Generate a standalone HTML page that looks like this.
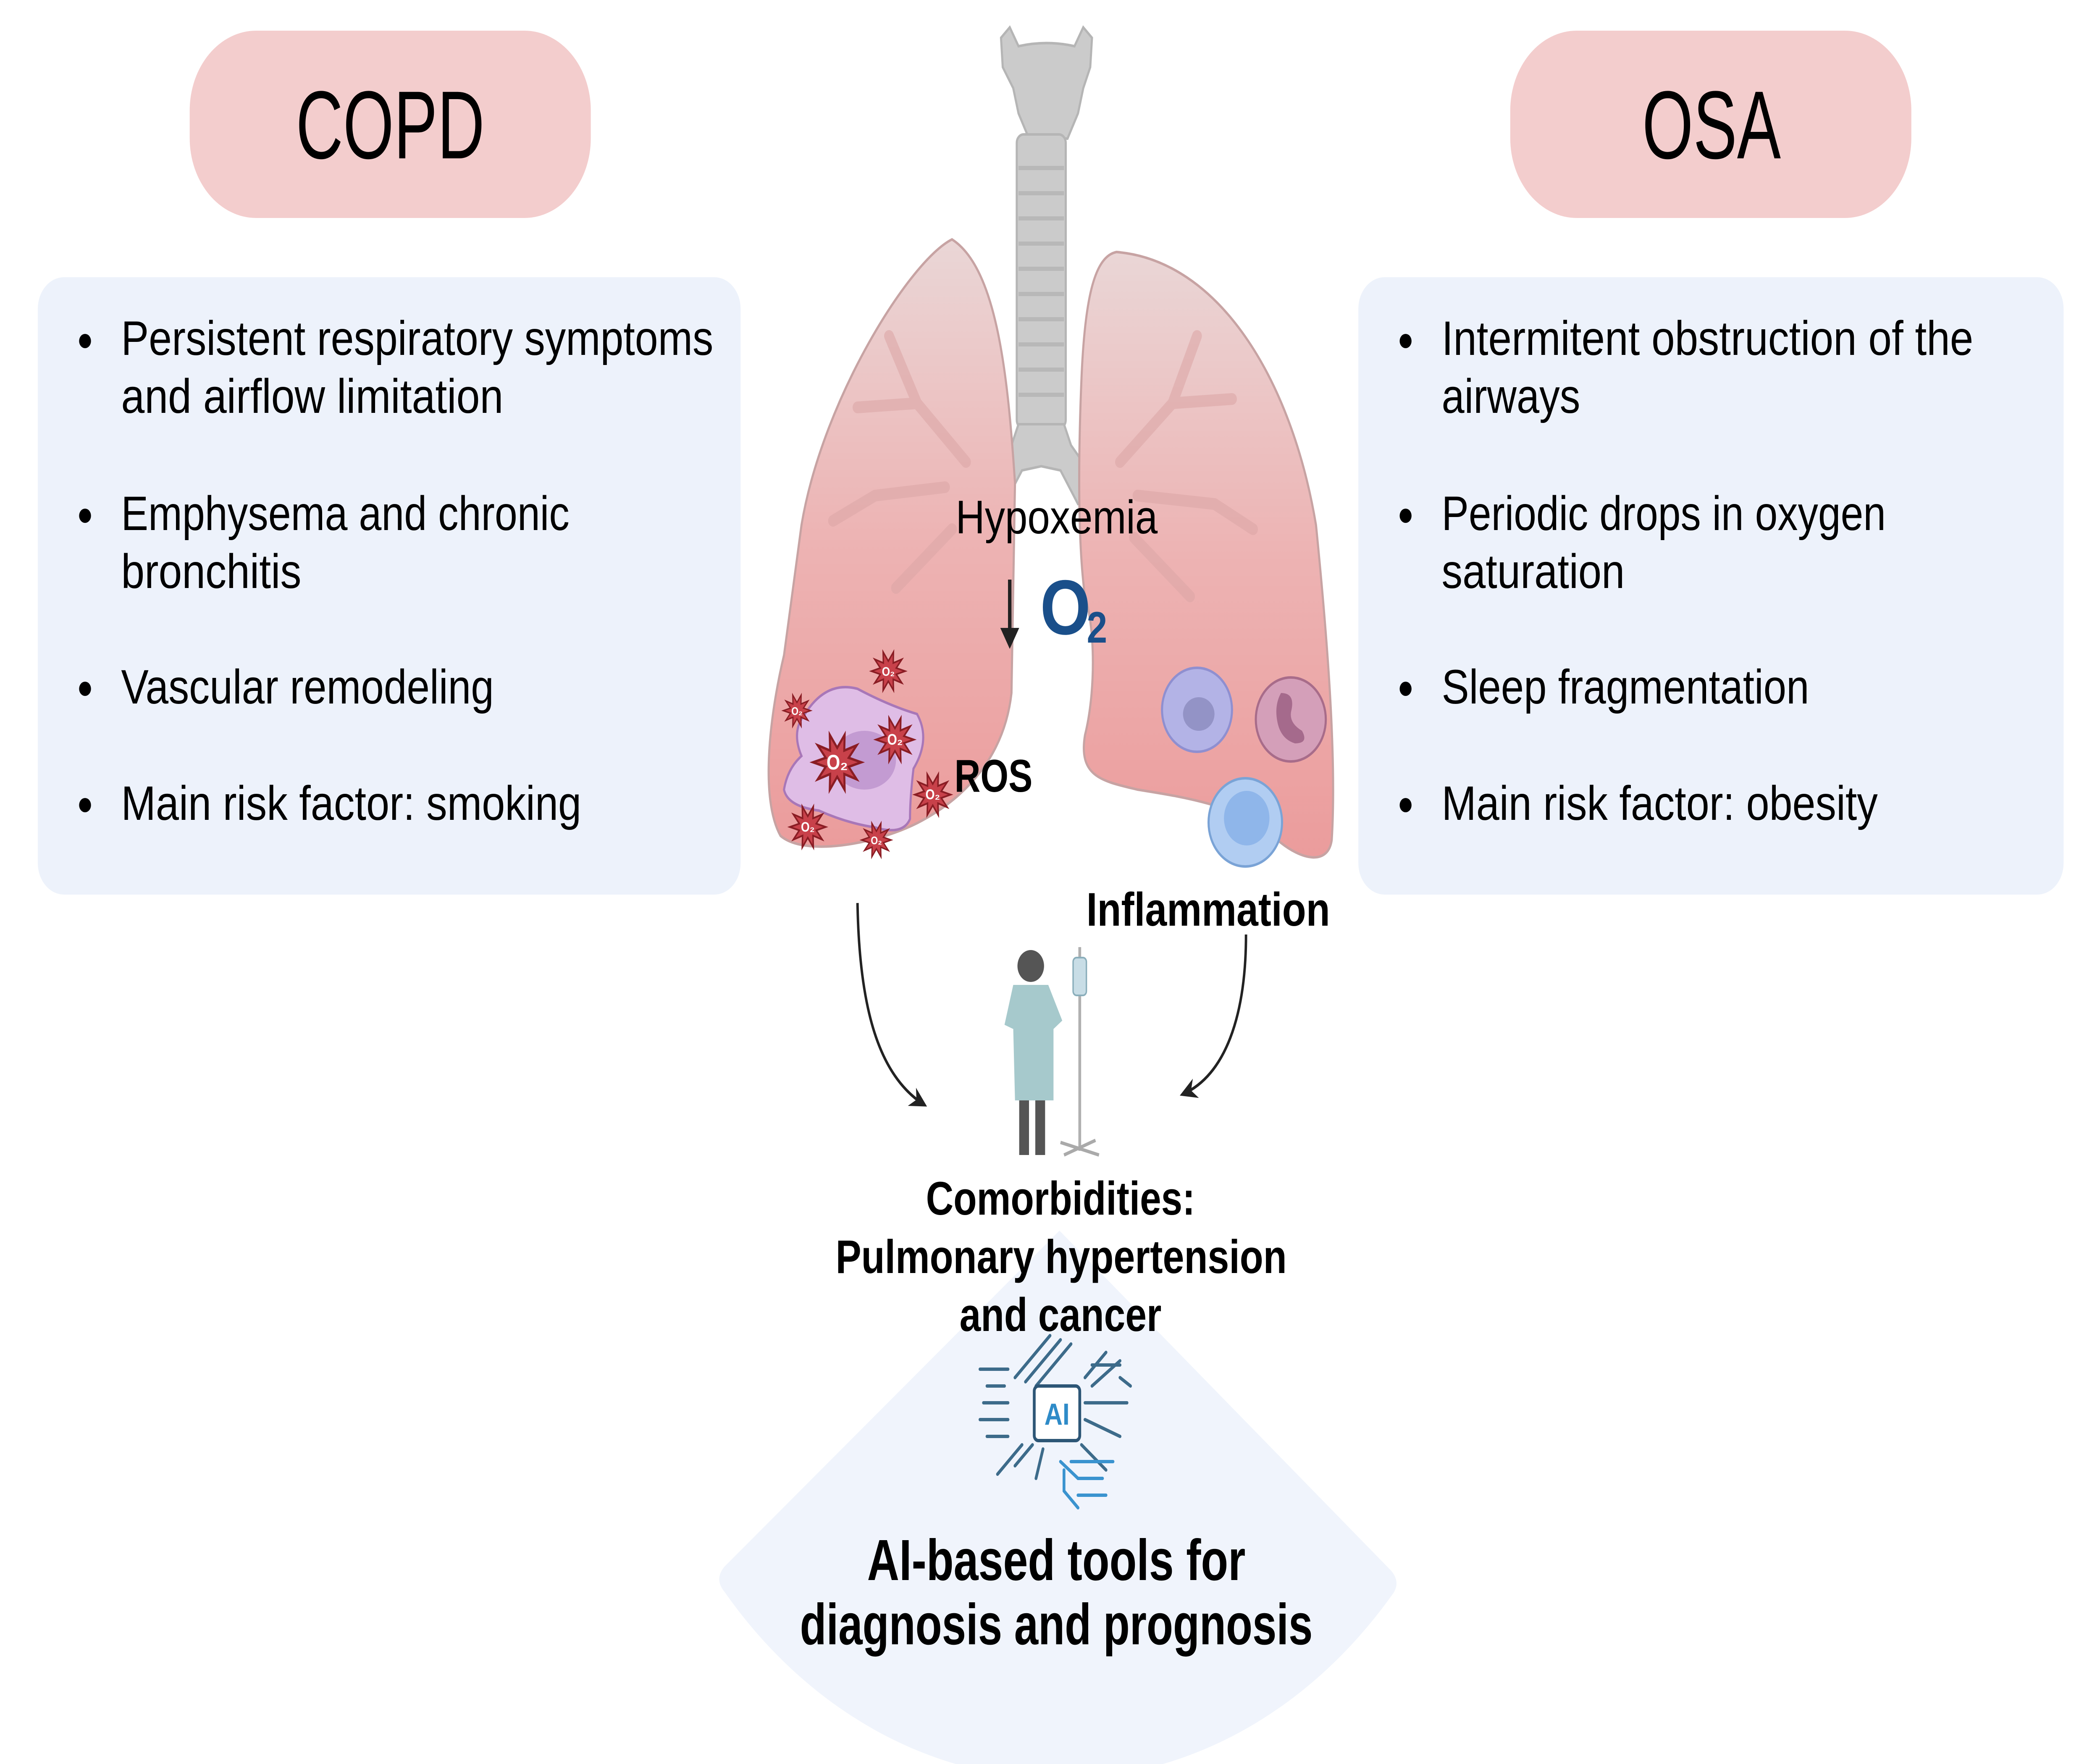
<!DOCTYPE html>
<html><head><meta charset="utf-8"><style>
html,body{margin:0;padding:0;background:#fff;width:100%;height:100%;overflow:hidden;}
svg{display:block;width:100vw;height:100vh;}
text{font-family:"Liberation Sans",Arial,sans-serif;}
</style></head><body>
<svg viewBox="0 0 6000 4200" preserveAspectRatio="none" xmlns="http://www.w3.org/2000/svg">
<defs>
<linearGradient id="lg" x1="0" y1="0" x2="0" y2="1">
<stop offset="0" stop-color="#ead6d6"/><stop offset="0.5" stop-color="#edb3b3"/><stop offset="1" stop-color="#eb9c9c"/>
</linearGradient>
<polygon id="star" points="60,0 28.5,9.3 48.5,35.3 17.6,24.3 18.5,57.1 0,30 -18.5,57.1 -17.6,24.3 -48.5,35.3 -28.5,9.3 -60,0 -28.5,-9.3 -48.5,-35.3 -17.6,-24.3 -18.5,-57.1 0,-30 18.5,-57.1 17.6,-24.3 48.5,-35.3 28.5,-9.3" fill="#c8414a" stroke="#8a1d24" stroke-width="5"/>
<marker id="ah" viewBox="0 0 10 10" refX="8" refY="5" markerWidth="7" markerHeight="7" orient="auto" markerUnits="strokeWidth"><path d="M0,0 L10,5 L0,10 L3,5 Z" fill="#222"/></marker>
</defs>

<path d="M3027,2930 L2070,3730 Q2040,3760 2070,3790 A1250,1250 0 0 0 3975,3800 Q4005,3770 3975,3740 Z" fill="#f0f4fc"/>

<rect x="542" y="73" width="1146" height="446" rx="190" fill="#f3cdcd"/>
<rect x="4315" y="73" width="1146" height="446" rx="190" fill="#f3cdcd"/>
<text x="1115" y="377" font-size="230" text-anchor="middle" textLength="539" lengthAdjust="spacingAndGlyphs">COPD</text>
<text x="4890" y="377" font-size="230" text-anchor="middle" textLength="396" lengthAdjust="spacingAndGlyphs">OSA</text>

<rect x="108" y="660" width="2008" height="1470" rx="75" fill="#edf2fb"/>
<rect x="3881" y="660" width="2015" height="1470" rx="75" fill="#edf2fb"/>

<g font-size="115" fill="#000">
<circle cx="243" cy="812" r="17"/><circle cx="243" cy="1228" r="17"/><circle cx="243" cy="1640" r="17"/><circle cx="243" cy="1917" r="17"/>
<text x="346" y="845" textLength="1692" lengthAdjust="spacingAndGlyphs">Persistent respiratory symptoms</text>
<text x="346" y="983" textLength="1092" lengthAdjust="spacingAndGlyphs">and airflow limitation</text>
<text x="346" y="1262" textLength="1281" lengthAdjust="spacingAndGlyphs">Emphysema and chronic</text>
<text x="346" y="1400" textLength="515" lengthAdjust="spacingAndGlyphs">bronchitis</text>
<text x="346" y="1675" textLength="1065" lengthAdjust="spacingAndGlyphs">Vascular remodeling</text>
<text x="346" y="1952" textLength="1315" lengthAdjust="spacingAndGlyphs">Main risk factor: smoking</text>

<circle cx="4016" cy="812" r="17"/><circle cx="4016" cy="1228" r="17"/><circle cx="4016" cy="1640" r="17"/><circle cx="4016" cy="1917" r="17"/>
<text x="4119" y="845" textLength="1519" lengthAdjust="spacingAndGlyphs">Intermitent obstruction of the</text>
<text x="4119" y="983" textLength="396" lengthAdjust="spacingAndGlyphs">airways</text>
<text x="4119" y="1262" textLength="1269" lengthAdjust="spacingAndGlyphs">Periodic drops in oxygen</text>
<text x="4119" y="1400" textLength="523" lengthAdjust="spacingAndGlyphs">saturation</text>
<text x="4119" y="1675" textLength="1050" lengthAdjust="spacingAndGlyphs">Sleep fragmentation</text>
<text x="4119" y="1952" textLength="1246" lengthAdjust="spacingAndGlyphs">Main risk factor: obesity</text>
</g>

<g fill="#cbcbcb" stroke="#b5b5b5" stroke-width="6">
<path d="M2860,90 L2885,65 L2910,110 Q2990,95 3070,110 L3095,65 L3120,90 L3115,160 L3095,210 L3080,270 L3050,330 L2940,330 L2910,270 L2895,210 L2865,160 Z"/>
<rect x="2905" y="320" width="140" height="700" rx="20"/>
<path d="M2910,1010 L3040,1010 L3060,1060 L3110,1120 L3120,1190 L3080,1200 L3030,1120 L2975,1110 L2920,1120 L2870,1200 L2830,1190 L2840,1120 L2890,1060 Z"/>
</g>
<g stroke="#b8b8b8" stroke-width="10">
<line x1="2910" y1="400" x2="3040" y2="400"/><line x1="2910" y1="460" x2="3040" y2="460"/><line x1="2910" y1="520" x2="3040" y2="520"/><line x1="2910" y1="580" x2="3040" y2="580"/><line x1="2910" y1="640" x2="3040" y2="640"/><line x1="2910" y1="700" x2="3040" y2="700"/><line x1="2910" y1="760" x2="3040" y2="760"/><line x1="2910" y1="820" x2="3040" y2="820"/><line x1="2910" y1="880" x2="3040" y2="880"/><line x1="2910" y1="940" x2="3040" y2="940"/>
</g>

<path d="M2720,570 C2600,620 2350,950 2290,1250 L2240,1560 C2200,1700 2170,1900 2230,1990 C2300,2040 2500,2010 2620,1960 C2760,1900 2870,1800 2890,1650 L2900,1150 C2880,900 2850,640 2720,570 Z" fill="url(#lg)" stroke="#c7a3a3" stroke-width="6"/>
<path d="M3190,600 C3480,620 3690,900 3760,1250 C3790,1500 3820,1800 3805,2000 C3795,2060 3720,2050 3650,2000 C3550,1920 3400,1900 3250,1880 C3150,1860 3080,1850 3100,1750 C3130,1650 3130,1500 3100,1420 C3080,1300 3080,1100 3090,900 C3100,700 3130,610 3190,600 Z" fill="url(#lg)" stroke="#c7a3a3" stroke-width="6"/>
<g stroke="#dca6a6" stroke-width="28" fill="none" stroke-linecap="round" opacity="0.6">
<path d="M2760,1100 L2620,960 L2540,800 M2620,960 L2450,970 M2700,1160 L2500,1180 L2380,1240 M2720,1260 L2560,1400"/>
<path d="M3200,1100 L3350,960 L3420,800 M3350,960 L3520,950 M3250,1180 L3470,1200 L3580,1260 M3240,1280 L3400,1420"/>
</g>

<path d="M2300,1700 Q2360,1620 2450,1640 Q2540,1680 2620,1700 Q2660,1760 2610,1830 Q2600,1900 2600,1950 Q2580,1990 2500,1970 Q2420,1960 2340,1930 Q2250,1920 2240,1880 Q2250,1830 2290,1800 Q2260,1740 2300,1700 Z" fill="#dfbde6" stroke="#a877b8" stroke-width="6"/>
<ellipse cx="2470" cy="1810" rx="90" ry="70" fill="#c39bd2"/>

<use href="#star" transform="translate(2538,1598) scale(0.8)"/>
<use href="#star" transform="translate(2277,1692) scale(0.65)"/>
<use href="#star" transform="translate(2392,1815) scale(1.15)"/>
<use href="#star" transform="translate(2557,1761) scale(0.9)"/>
<use href="#star" transform="translate(2665,1892) scale(0.85)"/>
<use href="#star" transform="translate(2308,1969) scale(0.85)"/>
<use href="#star" transform="translate(2504,2000) scale(0.7)"/>
<g fill="#fff" font-weight="bold" text-anchor="middle">
<text x="2392" y="1832" font-size="50">O₂</text>
<text x="2557" y="1773" font-size="36">O₂</text>
<text x="2665" y="1903" font-size="34">O₂</text>
<text x="2538" y="1609" font-size="30">O₂</text>
<text x="2308" y="1980" font-size="32">O₂</text>
<text x="2277" y="1702" font-size="26">O₂</text>
<text x="2504" y="2010" font-size="26">O₂</text>
</g>

<circle cx="3420" cy="1690" r="100" fill="#b3b3e6" stroke="#8f8fd0" stroke-width="6"/>
<ellipse cx="3425" cy="1700" rx="45" ry="40" fill="#9393c6"/>
<circle cx="3688" cy="1713" r="100" fill="#d49fb9" stroke="#a86c8a" stroke-width="6"/>
<path d="M3660,1650 Q3700,1650 3690,1690 Q3680,1720 3720,1740 Q3740,1770 3700,1770 Q3660,1760 3650,1720 Q3640,1680 3660,1650 Z" fill="#a56a8c"/>
<circle cx="3558" cy="1958" r="105" fill="#b1cdf2" stroke="#7aa3d6" stroke-width="6"/>
<circle cx="3562" cy="1948" r="65" fill="#8fb6ea"/>

<text x="3019" y="1270" font-size="112" text-anchor="middle" textLength="577" lengthAdjust="spacingAndGlyphs">Hypoxemia</text>
<line x1="2885" y1="1380" x2="2885" y2="1500" stroke="#222" stroke-width="10"/>
<path d="M2858,1495 L2912,1495 L2885,1545 Z" fill="#222"/>
<text x="2972" y="1510" font-size="185" font-weight="bold" fill="#1a4f8a">O</text>
<text x="3105" y="1530" font-size="105" font-weight="bold" fill="#1a4f8a">2</text>
<text x="2727" y="1885" font-size="110" font-weight="bold" textLength="223" lengthAdjust="spacingAndGlyphs">ROS</text>
<text x="3104" y="2204" font-size="112" font-weight="bold" textLength="696" lengthAdjust="spacingAndGlyphs">Inflammation</text>

<path d="M2450,2150 C2455,2400 2510,2560 2640,2630" fill="none" stroke="#222" stroke-width="7" marker-end="url(#ah)"/>
<path d="M3560,2225 C3560,2420 3500,2560 3380,2605" fill="none" stroke="#222" stroke-width="7" marker-end="url(#ah)"/>

<circle cx="2945" cy="2300" r="38" fill="#555"/>
<rect x="2912" y="2560" width="28" height="190" fill="#555"/>
<rect x="2958" y="2560" width="28" height="190" fill="#555"/>
<path d="M2895,2345 L2995,2345 L3035,2430 L3010,2450 L3010,2620 L2900,2620 L2895,2450 L2870,2440 Z" fill="#a6c9cc"/>
<line x1="3085" y1="2255" x2="3085" y2="2740" stroke="#b0b0b0" stroke-width="8"/>
<rect x="3066" y="2280" width="38" height="90" rx="10" fill="#c8dde6" stroke="#8aaebb" stroke-width="4"/>
<path d="M3030,2720 L3140,2750 M3040,2750 L3130,2715" stroke="#aaa" stroke-width="8"/>

<g font-weight="bold" font-size="112" text-anchor="middle">
<text x="3030" y="2892" textLength="769" lengthAdjust="spacingAndGlyphs">Comorbidities:</text>
<text x="3032" y="3031" textLength="1289" lengthAdjust="spacingAndGlyphs">Pulmonary hypertension</text>
<text x="3030" y="3169" textLength="577" lengthAdjust="spacingAndGlyphs">and cancer</text>
</g>

<g stroke="#3d6b8a" stroke-width="8" fill="none" stroke-linecap="round">
<path d="M2900,3280 L3000,3180 M2930,3290 L3030,3190 M2960,3300 L3060,3200 M2880,3260 L2800,3260 M2870,3300 L2820,3300 M2880,3340 L2810,3340 M2880,3380 L2800,3380 M2880,3420 L2820,3420 M2920,3440 L2850,3510 M2950,3440 L2900,3490 M2980,3450 L2960,3520 M3100,3280 L3160,3220 M3120,3300 L3200,3240 M3100,3340 L3220,3340 M3100,3380 L3200,3420 M3090,3440 L3160,3500 M3200,3280 L3230,3300 M3120,3250 L3200,3250"/>
<path d="M3030,3480 L3080,3520 L3150,3520 M3040,3500 L3040,3550 L3080,3590 M3060,3480 L3180,3480 M3080,3560 L3160,3560" stroke="#3a93cf"/>
</g>
<rect x="2955" y="3300" width="130" height="130" rx="12" fill="#fff" stroke="#2d5676" stroke-width="8"/>
<text x="3020" y="3392" font-size="72" font-weight="bold" fill="#2e8bc8" text-anchor="middle">AI</text>

<g font-weight="bold" font-size="138" text-anchor="middle">
<text x="3018" y="3762" textLength="1081" lengthAdjust="spacingAndGlyphs">AI-based tools for</text>
<text x="3018" y="3915" textLength="1465" lengthAdjust="spacingAndGlyphs">diagnosis and prognosis</text>
</g>
</svg>
</body></html>
